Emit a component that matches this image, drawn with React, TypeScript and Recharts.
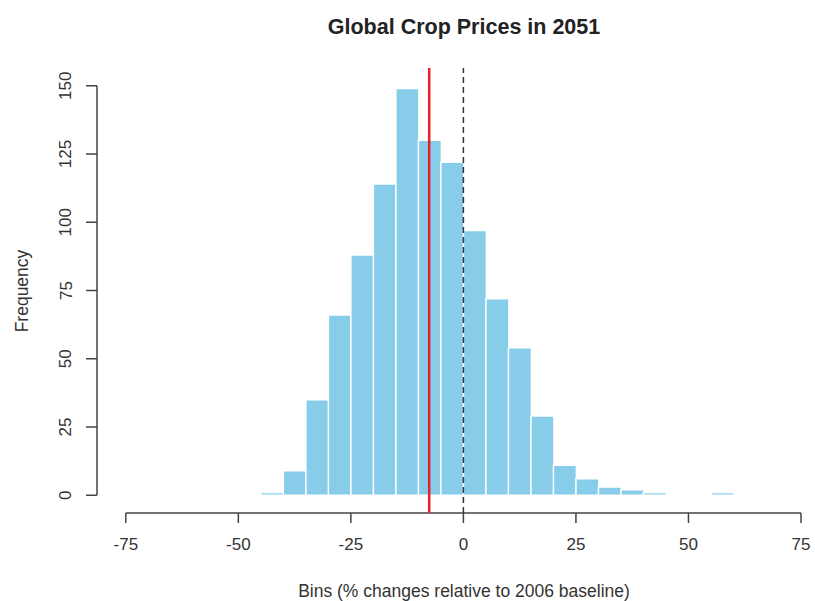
import React from 'react';
import { ComposedChart, Bar, XAxis, YAxis, ReferenceLine } from 'recharts';

// histogram bins (midpoints, width 5) and counts
const binMids = [-42.5, -37.5, -32.5, -27.5, -22.5, -17.5, -12.5, -7.5, -2.5, 2.5, 7.5, 12.5, 17.5, 22.5, 27.5, 32.5, 37.5, 42.5, 47.5, 52.5, 57.5];
const counts = [1, 9, 35, 66, 88, 114, 149, 130, 122, 97, 72, 54, 29, 11, 6, 3, 2, 1, 0, 0, 1];
const xTicks = [-75, -50, -25, 0, 25, 50, 75];
const yTicks = [0, 25, 50, 75, 100, 125, 150];
const meanChange = -7.6;

const data = binMids.map((mid, i) => ({ mid, count: counts[i] }));

const font = 'Arial, "Liberation Sans", Helvetica, sans-serif';
const axisColor = '#444';

const YTick = (props: any) => {
  const { y, payload } = props;
  return (
    <text
      x={66}
      y={y}
      transform={`rotate(-90, 66, ${y})`}
      textAnchor="middle"
      dominantBaseline="central"
      fill="#333"
      fontSize={17}
      fontFamily={font}
    >
      {payload.value}
    </text>
  );
};

const App: React.FC = () => {
  return (
    <div style={{ position: 'absolute', left: 0, top: 0, width: 815, height: 601, background: '#fff' }}>
      <div
        style={{
          position: 'absolute', left: 0, width: 928, top: 15, textAlign: 'center',
          fontFamily: font, fontWeight: 'bold', fontSize: 21.5, color: '#222',
        }}
      >
        Global Crop Prices in 2051
      </div>
      <div
        style={{
          position: 'absolute', left: 22, top: 291, transform: 'translate(-50%, -50%) rotate(-90deg)',
          fontFamily: font, fontSize: 17.5, color: '#333', whiteSpace: 'nowrap',
        }}
      >
        Frequency
      </div>
      <div
        style={{
          position: 'absolute', left: 0, width: 928, top: 581, textAlign: 'center',
          fontFamily: font, fontSize: 17.5, color: '#333',
        }}
      >
        Bins (% changes relative to 2006 baseline)
      </div>
      <ComposedChart
        width={815}
        height={601}
        data={data}
        margin={{ top: 68, right: 14, bottom: 48, left: 0 }}
        barCategoryGap={0}
        barGap={0}
      >
        <XAxis
          dataKey="mid"
          type="number"
          domain={[-81.4, 75]}
          allowDataOverflow
          ticks={xTicks}
          interval={0}
          axisLine={false}
          tickLine={{ stroke: axisColor, strokeWidth: 1.5 }}
          tickSize={10}
          tickMargin={15}
          height={40}
          tick={{ fill: '#333', fontSize: 17, fontFamily: font }}
        />
        <YAxis
          type="number"
          domain={[-6.5, 156.5]}
          allowDataOverflow
          ticks={yTicks}
          interval={0}
          axisLine={false}
          tickLine={{ stroke: axisColor, strokeWidth: 1.5 }}
          tickSize={11}
          width={97}
          tick={<YTick />}
        />
        <Bar dataKey="count" fill="#87cdea" stroke="#ffffff" strokeWidth={1.5} isAnimationActive={false} />
        <ReferenceLine
          segment={[{ x: -75, y: -6.5 }, { x: 75, y: -6.5 }]}
          stroke={axisColor}
          strokeWidth={1.5}
          ifOverflow="visible"
        />
        <ReferenceLine
          segment={[{ x: -81.4, y: 0 }, { x: -81.4, y: 150 }]}
          stroke={axisColor}
          strokeWidth={1.5}
          ifOverflow="visible"
        />
        <ReferenceLine x={0} stroke="#333" strokeWidth={1.5} strokeDasharray="6 4" />
        <ReferenceLine x={meanChange} stroke="#ee1c24" strokeWidth={2.5} />
      </ComposedChart>
    </div>
  );
};

export default App;
